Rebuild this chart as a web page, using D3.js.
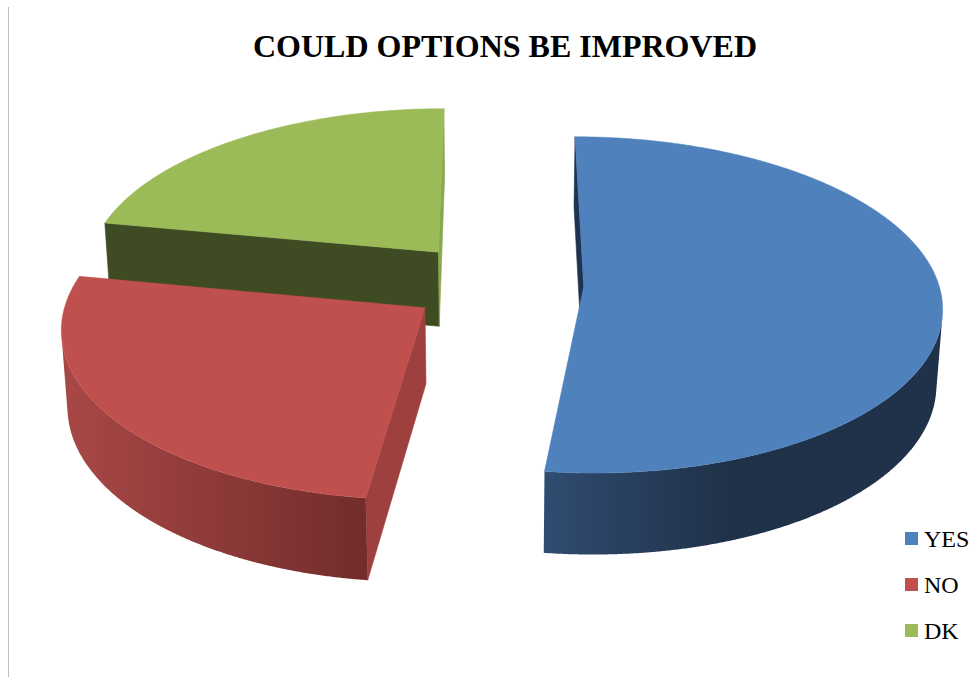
<!DOCTYPE html>
<html>
<head>
<meta charset="utf-8">
<script src="https://cdn.jsdelivr.net/npm/d3@7"></script>
<style>
  html, body { margin: 0; padding: 0; background: #fff; }
  svg { display: block; }
</style>
</head>
<body>
<svg id="chart" width="977" height="677"></svg>
<script>
// Survey answers and their shares (%)
const categories = ["YES", "NO", "DK"];
const values = [52, 26, 22];
// How far each slice is pulled out from the centre (in pie radii)
const explode = [0.25, 0.24, 0.255];

// Slice colours: top face, wall gradient (light -> dark), radial faces
const topColors = ["#4F81BD", "#C0504D", "#9BBB59"];
const wallLight = ["#304C71", "#A84846", "#46552A"];
const wallDark = ["#1F3249", "#722C2B", "#3A4620"];
const startFaceColors = ["#1F3350", "#9E403E", "#3F4C23"];
const endFaceColors = ["#2A4263", "#8E3A38", "#8AA74E"];

const title = "COULD OPTIONS BE IMPROVED";

const svg = d3.select("#chart");
const W = 977, H = 677;
const serif = "'Liberation Serif', 'Times New Roman', 'DejaVu Serif', serif";

// --- 3D view set-up -------------------------------------------------------
const cx = 495, cy = 284;       // screen position of the pie's centre (top face)
const f = 355;                  // pixels per radius at the centre's depth
const tilt = 27.8 * Math.PI / 180;
const sinT = Math.sin(tilt), cosT = Math.cos(tilt);
const camD = 8.15;              // camera distance, in radii
const thick = 0.243;            // pie thickness, in radii
const cam = [0, camD * sinT, -camD * cosT];

function project(X, Y, Z) {
  const up = Y * cosT + Z * sinT;
  const depth = camD + Z * cosT - Y * sinT;
  const k = camD / depth;
  return [cx + f * X * k, cy - f * up * k];
}

const data = categories.map((c, i) => ({ name: c, value: values[i], i }));
const arcs = d3.pie().sort(null).value(d => d.value).startAngle(0).endAngle(2 * Math.PI)(data);

const color = d3.scaleOrdinal().domain(categories).range(topColors);
const line = d3.line().curve(d3.curveLinearClosed);

const defs = svg.append("defs");

// left frame line
svg.append("line")
  .attr("x1", 8.5).attr("x2", 8.5).attr("y1", 7).attr("y2", H)
  .attr("stroke", "#BFBFBF").attr("stroke-width", 1);

const slices = arcs.map(a => {
  const i = a.data.i;
  const mid = (a.startAngle + a.endAngle) / 2;
  const ox = explode[i] * Math.sin(mid), oz = explode[i] * Math.cos(mid);
  return { a, i, ox, oz };
});

// far slices first
slices.sort((p, q) => q.oz - p.oz);

const pie = svg.append("g").attr("class", "pie");

function visible(nx, nz, px, py, pz) {
  return nx * (cam[0] - px) + nz * (cam[2] - pz) > 0;
}

slices.forEach(s => {
  const { a, i, ox, oz } = s;
  const g = pie.append("g").attr("class", "slice slice-" + a.data.name);
  const a0 = a.startAngle, a1 = a.endAngle;
  const step = Math.PI / 720;
  const ts = d3.range(a0, a1, step).concat([a1]);

  // radial faces
  const radial = [
    { t: a0, n: [-Math.cos(a0), Math.sin(a0)], col: startFaceColors[i] },
    { t: a1, n: [Math.cos(a1), -Math.sin(a1)], col: endFaceColors[i] }
  ];
  radial.forEach(r => {
    const px = ox + 0.5 * Math.sin(r.t), pz = oz + 0.5 * Math.cos(r.t);
    if (!visible(r.n[0], r.n[1], px, -thick / 2, pz)) return;
    const pts = [
      project(ox, 0, oz),
      project(ox + Math.sin(r.t), 0, oz + Math.cos(r.t)),
      project(ox + Math.sin(r.t), -thick, oz + Math.cos(r.t)),
      project(ox, -thick, oz)
    ];
    g.append("path").attr("d", line(pts)).attr("fill", r.col)
      .attr("stroke", r.col).attr("stroke-width", 0.6).attr("stroke-linejoin", "round");
  });

  // outer wall: contiguous runs that face the camera
  const runs = [];
  let cur = null;
  ts.forEach(t => {
    const px = ox + Math.sin(t), pz = oz + Math.cos(t);
    const vis = visible(Math.sin(t), Math.cos(t), px, -thick / 2, pz);
    if (vis) { if (!cur) { cur = []; runs.push(cur); } cur.push(t); }
    else cur = null;
  });
  runs.forEach((run, k) => {
    if (run.length < 2) return;
    const topPts = run.map(t => project(ox + Math.sin(t), 0, oz + Math.cos(t)));
    const botPts = run.map(t => project(ox + Math.sin(t), -thick, oz + Math.cos(t))).reverse();
    const pts = topPts.concat(botPts);
    const xs = pts.map(p => p[0]);
    const gid = "wall-" + a.data.name + "-" + k;
    const grad = defs.append("linearGradient").attr("id", gid)
      .attr("gradientUnits", "userSpaceOnUse")
      .attr("x1", d3.min(xs)).attr("x2", d3.max(xs)).attr("y1", 0).attr("y2", 0);
    grad.append("stop").attr("offset", 0).attr("stop-color", wallLight[i]);
    grad.append("stop").attr("offset", i === 0 ? 0.45 : 1).attr("stop-color", wallDark[i]);
    grad.append("stop").attr("offset", 1).attr("stop-color", wallDark[i]);
    g.append("path").attr("d", line(pts)).attr("fill", "url(#" + gid + ")");
  });

  // top face
  const topFace = [project(ox, 0, oz)].concat(
    ts.map(t => project(ox + Math.sin(t), 0, oz + Math.cos(t))));
  g.append("path").attr("d", line(topFace)).attr("fill", color(a.data.name))
    .attr("stroke", color(a.data.name)).attr("stroke-width", 0.5).attr("stroke-linejoin", "round");
});

// title
svg.append("text")
  .attr("x", 505).attr("y", 57)
  .attr("text-anchor", "middle")
  .attr("font-family", serif)
  .attr("font-weight", "bold")
  .attr("font-size", 32)
  .attr("fill", "#000")
  .text(title);

// legend
const legend = svg.append("g").attr("class", "legend");
const legendY = d3.scalePoint().domain(categories).range([539, 631]);
categories.forEach(c => {
  const y = legendY(c);
  legend.append("rect")
    .attr("x", 905).attr("y", y - 7).attr("width", 13).attr("height", 13)
    .attr("fill", color(c));
  legend.append("text")
    .attr("x", 924).attr("y", y + 8)
    .attr("font-family", serif)
    .attr("font-size", 24)
    .attr("fill", "#000")
    .text(c);
});
</script>
</body>
</html>
